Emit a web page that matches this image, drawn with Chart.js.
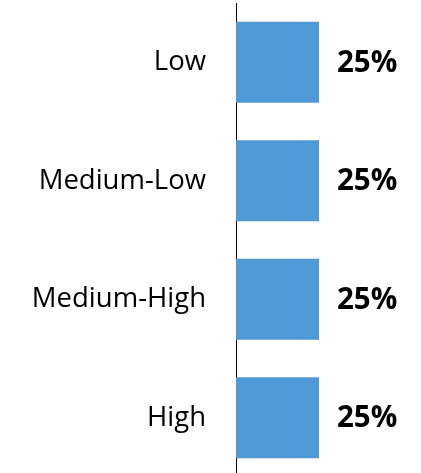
<!DOCTYPE html>
<html>
<head>
<meta charset="utf-8">
<script src="https://cdn.jsdelivr.net/npm/chart.js"></script>
<style>
    html, body { margin: 0; padding: 0; background: #fff; overflow: hidden; }
    .chart { width: 421px; height: 478px; }
</style>
</head>
<body>
<div class="chart"><canvas id="riskChart"></canvas></div>
<script>
// Categorias e percentuais
const categories = ['Low', 'Medium-Low', 'Medium-High', 'High'];
const shares = [25, 25, 25, 25];
const axisMax = 50;

// Escreve o valor à direita de cada barra
const valueLabels = {
    id: 'valueLabels',
    afterDatasetsDraw(chart) {
        const ctx = chart.ctx;
        const meta = chart.getDatasetMeta(0);
        ctx.save();
        ctx.font = 'bold 29.5px "Open Sans"';
        ctx.fillStyle = '#000';
        ctx.textAlign = 'left';
        ctx.textBaseline = 'middle';
        meta.data.forEach((bar, i) => {
            ctx.fillText(shares[i] + '%', bar.x + 18, bar.y + 1);
        });
        ctx.restore();
    }
};

function createBarChart() {
    const ctx = document.getElementById('riskChart').getContext('2d');
    new Chart(ctx, {
        type: 'bar',
        data: {
            labels: categories,
            datasets: [{
                data: shares,
                backgroundColor: '#4d9ad6',
                categoryPercentage: 1,
                barPercentage: 0.684
            }]
        },
        options: {
            indexAxis: 'y',
            responsive: true,
            maintainAspectRatio: false,
            animation: false,
            layout: { padding: { top: 3, bottom: 1, left: 0, right: 19 } },
            plugins: {
                legend: { display: false },
                tooltip: { enabled: false }
            },
            scales: {
                x: {
                    display: false,
                    min: 0,
                    max: axisMax
                },
                y: {
                    // largura fixa do eixo e sem folga extra em cima/embaixo
                    afterFit: scale => {
                        scale.width = 236;
                        scale.paddingTop = 0;
                        scale.paddingBottom = 0;
                    },
                    grid: { display: false, drawTicks: false },
                    border: { display: true, color: '#000', width: 1 },
                    ticks: {
                        padding: 30,
                        color: '#000',
                        font: { family: '"Open Sans"', size: 27.5 }
                    }
                }
            }
        },
        plugins: [valueLabels]
    });
}

createBarChart();
</script>
</body>
</html>
